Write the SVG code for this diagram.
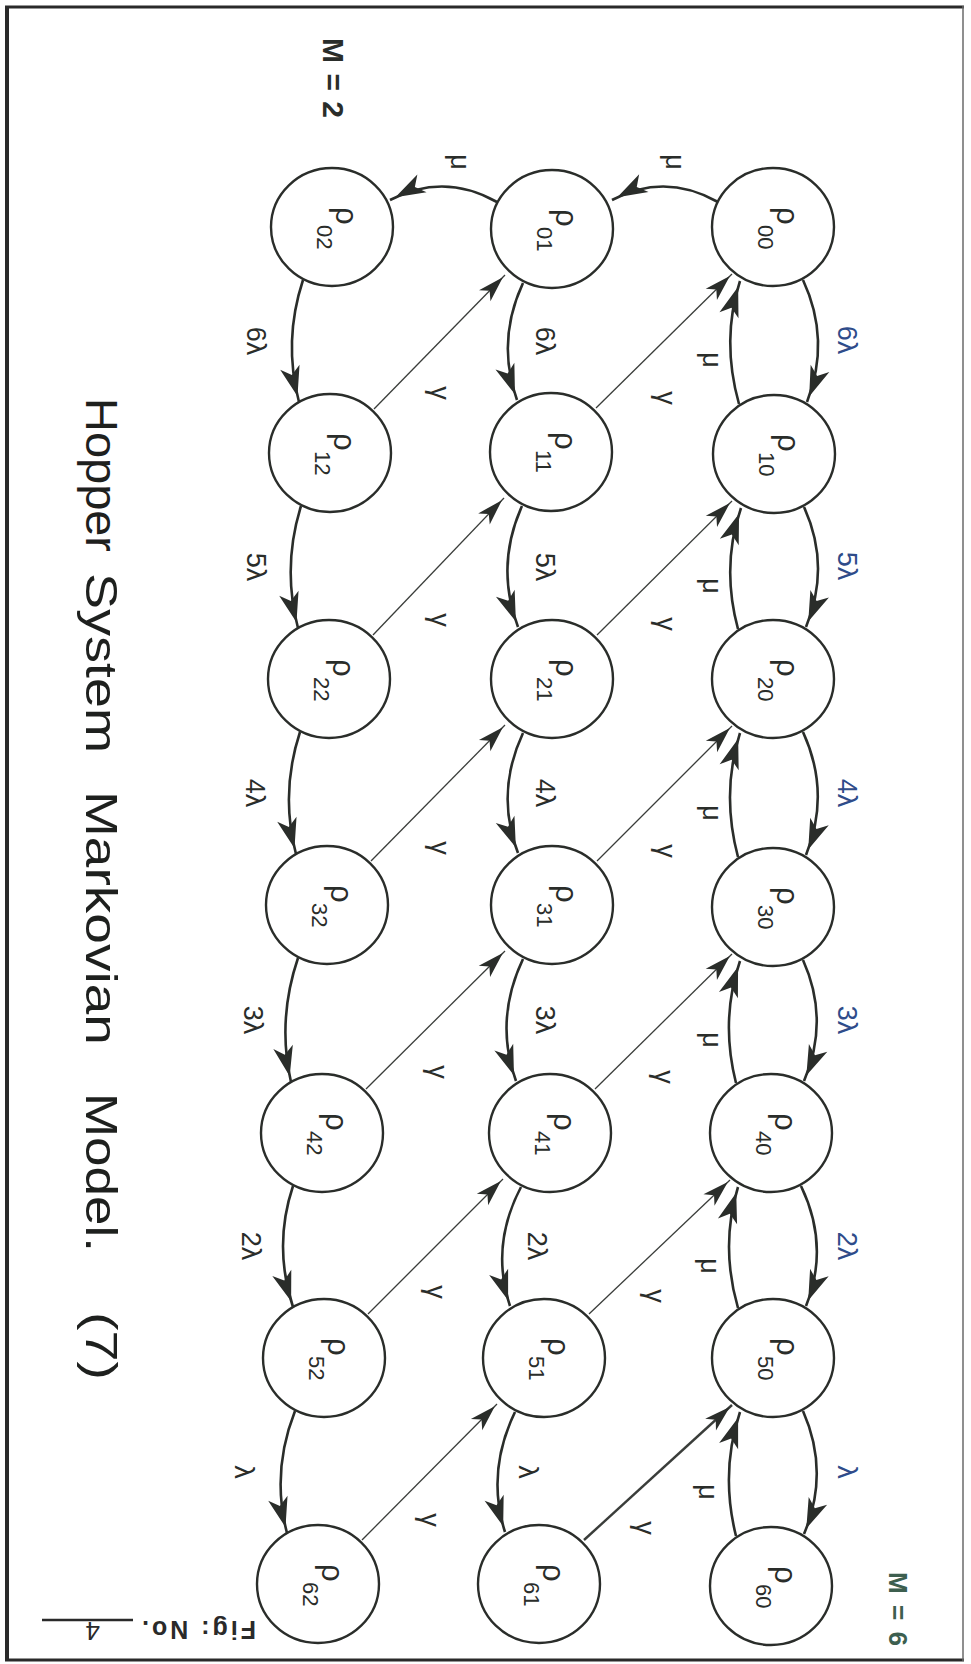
<svg xmlns="http://www.w3.org/2000/svg" width="971" height="1664" viewBox="0 0 971 1664">
  <defs>
    <style>
      .node ellipse { fill: #ffffff; stroke: #2a2d2a; stroke-width: 2.4; }
      .nl { font-family: "Liberation Sans", "DejaVu Sans", sans-serif; font-size: 31px; fill: #2a2d2a; }
      .sub { font-size: 22px; }
      .arc { fill: none; stroke: #2a2d2a; stroke-width: 2.6; marker-end: url(#ah); }
      .gam { fill: none; stroke: #3a3d3a; stroke-width: 1.3; marker-end: url(#ahs); }
      .gam.heavy { stroke-width: 2.4; }
      .lbl { font-family: "Liberation Sans", "DejaVu Sans", sans-serif; font-size: 27px; fill: #2a2d2a; text-anchor: middle; dominant-baseline: central; }
      .blue { fill: #2f4c8a; }
      .title { font-family: "Liberation Sans", "DejaVu Sans", sans-serif; font-size: 44px; fill: #1e201e; }
      .mark { font-family: "Liberation Sans", "DejaVu Sans", sans-serif; font-size: 30px; font-weight: bold; fill: #2a2d2a; }
    </style>
    <marker id="ah" markerUnits="userSpaceOnUse" markerWidth="40" markerHeight="28" viewBox="-34 -14 40 28" refX="6" refY="0" orient="auto">
      <path d="M0,0 L-30,-10 L-22,0 L-30,10 Z" fill="#2a2d2a"/>
    </marker>
    <marker id="ahs" markerUnits="userSpaceOnUse" markerWidth="34" markerHeight="24" viewBox="-30 -12 34 24" refX="3" refY="0" orient="auto">
      <path d="M0,0 L-26,-8 L-19,0 L-26,8 Z" fill="#2a2d2a"/>
    </marker>
  </defs>

  <rect x="0" y="0" width="971" height="1664" fill="#ffffff"/>

  <!-- frame -->
  <g id="frame" fill="none">
    <line x1="5" y1="7" x2="964" y2="7" stroke="#2a2a2a" stroke-width="3"/>
    <line x1="7" y1="6" x2="7" y2="1661" stroke="#2a2a2a" stroke-width="4"/>
    <line x1="5" y1="1660" x2="964" y2="1660" stroke="#2a2a2a" stroke-width="3"/>
    <line x1="963" y1="6" x2="963" y2="1661" stroke="#6a6a6a" stroke-width="1.5"/>
  </g>

  <!-- connectors -->
  <g id="connectors">
    <!-- top row: mu transitions leftwards -->
    <path class="arc" d="M718,202 Q665,172 612,200"/>
    <path class="arc" d="M497,202 Q444,172 390,200"/>

    <!-- right column: arrival arcs -->
    <path class="arc" d="M803,280 Q831,340 807,402"/>
    <path class="arc" d="M804,507 Q831,566 806,627"/>
    <path class="arc" d="M803,732 Q831,793 806,855"/>
    <path class="arc" d="M803,960 Q830,1020 804,1081"/>
    <path class="arc" d="M801,1186 Q830,1246 806,1306"/>
    <path class="arc" d="M803,1411 Q830,1472 804,1534"/>

    <!-- right column: service arcs upwards -->
    <path class="arc" d="M739,404 Q721,340 740,281"/>
    <path class="arc" d="M738,629 Q721,566 741,508"/>
    <path class="arc" d="M738,857 Q721,793 740,733"/>
    <path class="arc" d="M736,1083 Q720,1020 740,961"/>
    <path class="arc" d="M738,1308 Q720,1246 738,1187"/>
    <path class="arc" d="M736,1536 Q720,1472 740,1412"/>

    <!-- middle column: arrival arcs -->
    <path class="arc" d="M523,283 Q496,341 517,400"/>
    <path class="arc" d="M522,506 Q495,566 518,627"/>
    <path class="arc" d="M523,733 Q495,793 518,853"/>
    <path class="arc" d="M523,959 Q494,1020 516,1081"/>
    <path class="arc" d="M521,1187 Q490,1246 510,1306"/>
    <path class="arc" d="M515,1412 Q486,1472 505,1532"/>

    <!-- left column: arrival arcs -->
    <path class="arc" d="M303,280 Q283,341 299,402"/>
    <path class="arc" d="M301,506 Q282,567 298,628"/>
    <path class="arc" d="M300,732 Q280,793 296,854"/>
    <path class="arc" d="M298,958 Q277,1020 291,1082"/>
    <path class="arc" d="M293,1186 Q273,1246 293,1307"/>
    <path class="arc" d="M295,1411 Q271,1472 287,1533"/>

    <!-- gamma transitions: middle to right column -->
    <path class="gam" d="M596,408 L732,274"/>
    <path class="gam" d="M597,635 L732,501"/>
    <path class="gam" d="M597,861 L732,726"/>
    <path class="gam" d="M595,1089 L732,954"/>
    <path class="gam" d="M589,1314 L730,1180"/>
    <path class="gam heavy" d="M584,1540 L732,1405"/>

    <!-- gamma transitions: left to middle column -->
    <path class="gam" d="M374,409 L505,275"/>
    <path class="gam" d="M373,635 L504,498"/>
    <path class="gam" d="M371,861 L505,725"/>
    <path class="gam" d="M366,1089 L505,951"/>
    <path class="gam" d="M368,1314 L503,1179"/>
    <path class="gam" d="M362,1540 L497,1404"/>
  </g>

  <!-- transition rate labels -->
  <g id="labels">
    <text class="lbl" transform="translate(675,162) rotate(90)">μ</text>
    <text class="lbl" transform="translate(460,162) rotate(90)">μ</text>

    <text class="lbl blue" transform="translate(847,340) rotate(90)">6λ</text>
    <text class="lbl blue" transform="translate(847,566) rotate(90)">5λ</text>
    <text class="lbl blue" transform="translate(847,793) rotate(90)">4λ</text>
    <text class="lbl blue" transform="translate(847,1020) rotate(90)">3λ</text>
    <text class="lbl blue" transform="translate(847,1246) rotate(90)">2λ</text>
    <text class="lbl blue" transform="translate(847,1472) rotate(90)">λ</text>

    <text class="lbl" transform="translate(712,360) rotate(90)">μ</text>
    <text class="lbl" transform="translate(712,586) rotate(90)">μ</text>
    <text class="lbl" transform="translate(712,813) rotate(90)">μ</text>
    <text class="lbl" transform="translate(712,1040) rotate(90)">μ</text>
    <text class="lbl" transform="translate(710,1266) rotate(90)">μ</text>
    <text class="lbl" transform="translate(708,1492) rotate(90)">μ</text>

    <text class="lbl" transform="translate(545,341) rotate(90)">6λ</text>
    <text class="lbl" transform="translate(545,567) rotate(90)">5λ</text>
    <text class="lbl" transform="translate(545,793) rotate(90)">4λ</text>
    <text class="lbl" transform="translate(545,1020) rotate(90)">3λ</text>
    <text class="lbl" transform="translate(537,1246) rotate(90)">2λ</text>
    <text class="lbl" transform="translate(528,1472) rotate(90)">λ</text>

    <text class="lbl" transform="translate(256,341) rotate(90)">6λ</text>
    <text class="lbl" transform="translate(256,567) rotate(90)">5λ</text>
    <text class="lbl" transform="translate(255,793) rotate(90)">4λ</text>
    <text class="lbl" transform="translate(253,1020) rotate(90)">3λ</text>
    <text class="lbl" transform="translate(251,1246) rotate(90)">2λ</text>
    <text class="lbl" transform="translate(244,1472) rotate(90)">λ</text>

    <text class="lbl" transform="translate(666,398) rotate(90)">γ</text>
    <text class="lbl" transform="translate(666,624) rotate(90)">γ</text>
    <text class="lbl" transform="translate(666,851) rotate(90)">γ</text>
    <text class="lbl" transform="translate(664,1077) rotate(90)">γ</text>
    <text class="lbl" transform="translate(655,1296) rotate(90)">γ</text>
    <text class="lbl" transform="translate(645,1528) rotate(90)">γ</text>

    <text class="lbl" transform="translate(440,393) rotate(90)">γ</text>
    <text class="lbl" transform="translate(440,620) rotate(90)">γ</text>
    <text class="lbl" transform="translate(440,848) rotate(90)">γ</text>
    <text class="lbl" transform="translate(438,1072) rotate(90)">γ</text>
    <text class="lbl" transform="translate(436,1292) rotate(90)">γ</text>
    <text class="lbl" transform="translate(430,1520) rotate(90)">γ</text>
  </g>

  <!-- state nodes: rho_{n,k} -->
  <g id="n00" class="node" transform="translate(773,227)"><ellipse rx="61" ry="59"/><text class="nl" transform="rotate(90)" x="-20" y="-4">ρ<tspan class="sub" x="-2" y="15">00</tspan></text></g>
  <g id="n01" class="node" transform="translate(552,229)"><ellipse rx="61" ry="59"/><text class="nl" transform="rotate(90)" x="-20" y="-4">ρ<tspan class="sub" x="-2" y="15">01</tspan></text></g>
  <g id="n02" class="node" transform="translate(332,227)"><ellipse rx="61" ry="59"/><text class="nl" transform="rotate(90)" x="-20" y="-4">ρ<tspan class="sub" x="-2" y="15">02</tspan></text></g>

  <g id="n10" class="node" transform="translate(774,454)"><ellipse rx="61" ry="59"/><text class="nl" transform="rotate(90)" x="-20" y="-4">ρ<tspan class="sub" x="-2" y="15">10</tspan></text></g>
  <g id="n11" class="node" transform="translate(551,452)"><ellipse rx="61" ry="59"/><text class="nl" transform="rotate(90)" x="-20" y="-4">ρ<tspan class="sub" x="-2" y="15">11</tspan></text></g>
  <g id="n12" class="node" transform="translate(330,453)"><ellipse rx="61" ry="59"/><text class="nl" transform="rotate(90)" x="-20" y="-4">ρ<tspan class="sub" x="-2" y="15">12</tspan></text></g>

  <g id="n20" class="node" transform="translate(773,679)"><ellipse rx="61" ry="59"/><text class="nl" transform="rotate(90)" x="-20" y="-4">ρ<tspan class="sub" x="-2" y="15">20</tspan></text></g>
  <g id="n21" class="node" transform="translate(552,679)"><ellipse rx="61" ry="59"/><text class="nl" transform="rotate(90)" x="-20" y="-4">ρ<tspan class="sub" x="-2" y="15">21</tspan></text></g>
  <g id="n22" class="node" transform="translate(329,679)"><ellipse rx="61" ry="59"/><text class="nl" transform="rotate(90)" x="-20" y="-4">ρ<tspan class="sub" x="-2" y="15">22</tspan></text></g>

  <g id="n30" class="node" transform="translate(773,907)"><ellipse rx="61" ry="59"/><text class="nl" transform="rotate(90)" x="-20" y="-4">ρ<tspan class="sub" x="-2" y="15">30</tspan></text></g>
  <g id="n31" class="node" transform="translate(552,905)"><ellipse rx="61" ry="59"/><text class="nl" transform="rotate(90)" x="-20" y="-4">ρ<tspan class="sub" x="-2" y="15">31</tspan></text></g>
  <g id="n32" class="node" transform="translate(327,905)"><ellipse rx="61" ry="59"/><text class="nl" transform="rotate(90)" x="-20" y="-4">ρ<tspan class="sub" x="-2" y="15">32</tspan></text></g>

  <g id="n40" class="node" transform="translate(771,1133)"><ellipse rx="61" ry="59"/><text class="nl" transform="rotate(90)" x="-20" y="-4">ρ<tspan class="sub" x="-2" y="15">40</tspan></text></g>
  <g id="n41" class="node" transform="translate(550,1133)"><ellipse rx="61" ry="59"/><text class="nl" transform="rotate(90)" x="-20" y="-4">ρ<tspan class="sub" x="-2" y="15">41</tspan></text></g>
  <g id="n42" class="node" transform="translate(322,1133)"><ellipse rx="61" ry="59"/><text class="nl" transform="rotate(90)" x="-20" y="-4">ρ<tspan class="sub" x="-2" y="15">42</tspan></text></g>

  <g id="n50" class="node" transform="translate(773,1358)"><ellipse rx="61" ry="59"/><text class="nl" transform="rotate(90)" x="-20" y="-4">ρ<tspan class="sub" x="-2" y="15">50</tspan></text></g>
  <g id="n51" class="node" transform="translate(544,1358)"><ellipse rx="61" ry="59"/><text class="nl" transform="rotate(90)" x="-20" y="-4">ρ<tspan class="sub" x="-2" y="15">51</tspan></text></g>
  <g id="n52" class="node" transform="translate(324,1358)"><ellipse rx="61" ry="59"/><text class="nl" transform="rotate(90)" x="-20" y="-4">ρ<tspan class="sub" x="-2" y="15">52</tspan></text></g>

  <g id="n60" class="node" transform="translate(771,1586)"><ellipse rx="61" ry="59"/><text class="nl" transform="rotate(90)" x="-20" y="-4">ρ<tspan class="sub" x="-2" y="15">60</tspan></text></g>
  <g id="n61" class="node" transform="translate(539,1584)"><ellipse rx="61" ry="59"/><text class="nl" transform="rotate(90)" x="-20" y="-4">ρ<tspan class="sub" x="-2" y="15">61</tspan></text></g>
  <g id="n62" class="node" transform="translate(318,1584)"><ellipse rx="61" ry="59"/><text class="nl" transform="rotate(90)" x="-20" y="-4">ρ<tspan class="sub" x="-2" y="15">62</tspan></text></g>

  <!-- capacity markers -->
  <text id="m2" class="mark" transform="translate(323,38) rotate(90)" textLength="80">M = 2</text>
  <text id="m6" class="mark" transform="translate(889,1572) rotate(90)" textLength="74" style="fill:#3d5f4f;font-size:26px">M = 6</text>

  <!-- caption -->
  <g id="title" class="title">
    <text transform="translate(86,398) rotate(90)" textLength="154" lengthAdjust="spacingAndGlyphs">Hopper</text>
    <text transform="translate(86,573) rotate(90)" textLength="180" lengthAdjust="spacingAndGlyphs">System</text>
    <text transform="translate(86,791) rotate(90)" textLength="254" lengthAdjust="spacingAndGlyphs">Markovian</text>
    <text transform="translate(86,1093) rotate(90)" textLength="159" lengthAdjust="spacingAndGlyphs">Model.</text>
    <text transform="translate(86,1312) rotate(90)" textLength="68" lengthAdjust="spacingAndGlyphs">(7)</text>
  </g>

  <!-- figure number -->
  <g id="fig">
    <text transform="translate(256,1621) rotate(180)" font-family="Liberation Sans, sans-serif" font-size="25" font-weight="bold" fill="#2a2a2a" textLength="114">Fig: No.</text>
    <line x1="42" y1="1620" x2="133" y2="1620" stroke="#2a2a2a" stroke-width="2.5"/>
    <text transform="translate(100,1622) rotate(180)" font-family="Liberation Sans, sans-serif" font-size="26" fill="#2a2a2a">4</text>
  </g>
</svg>
